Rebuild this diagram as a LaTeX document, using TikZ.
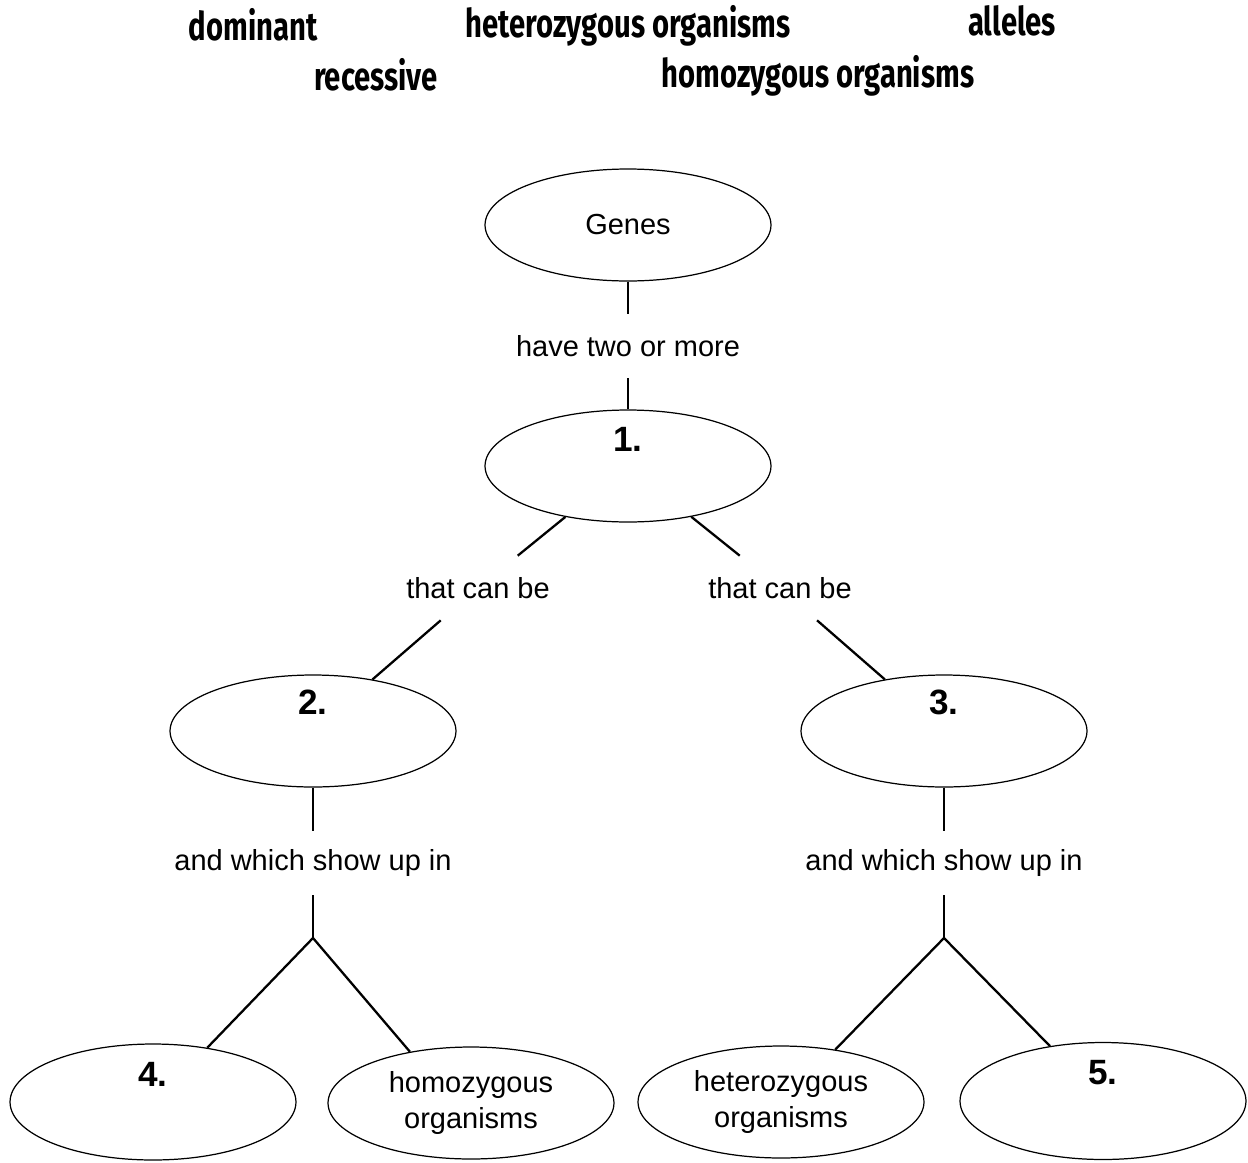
\documentclass[tikz,border=0pt]{standalone}
\usepackage{fontspec}
\setmainfont{Liberation Sans}
\newfontfamily\bankfont{Fira Sans}[FakeStretch=0.74]
\usetikzlibrary{shapes.geometric}

\begin{document}
\begin{tikzpicture}[x=0.02cm,y=-0.02cm]
      \useasboundingbox (0,0) rectangle (1248,1163);
      \begin{scope}[every node/.style={anchor=base,font=\bankfont\bfseries\fontsize{22.5}{26}\selectfont}]
        \node (dominant) at (253,40) {dominant};
        \node (heterow) at (628,37) {heterozygous organisms};
        \node (alleles) at (1012,35) {alleles};
        \node (recessive) at (376,90) {recessive};
        \node (homow) at (818,87) {homozygous organisms};
      \end{scope}
      \begin{scope}[every node/.style={ellipse,draw,line width=0.7pt,minimum width=5.72cm,minimum height=2.24cm,inner sep=0pt,align=center,font=\fontsize{16.5}{20.5}\selectfont}]
        \node (genes) at (628,225) {Genes};
        \node (one) at (628,466) {};
        \node (two) at (313,731) {};
        \node (three) at (944,731) {};
        \node[minimum height=2.32cm] (four) at (153,1102) {};
        \node (homo) at (471,1103) {homozygous\\organisms};
        \node (hetero) at (781,1102) {heterozygous\\organisms};
        \node[minimum height=2.34cm] (five) at (1103,1101) {};
      \end{scope}
      \begin{scope}[every node/.style={font=\bfseries\fontsize{20}{24}\selectfont}]
        \node (n1) at ([yshift=-0.6cm]one.north) {1.};
        \node (n2) at ([yshift=-0.56cm]two.north) {2.};
        \node (n3) at ([yshift=-0.56cm]three.north) {3.};
        \node (n4) at ([yshift=-0.62cm]four.north) {4.};
        \node (n5) at ([yshift=-0.62cm]five.north) {5.};
      \end{scope}
      \begin{scope}[every node/.style={inner sep=0pt,minimum height=1.28cm,font=\fontsize{16.5}{20}\selectfont}]
        \node (have) at (628,346) {have two or more};
        \node (canL) at (478,588) {that can be};
        \node (canR) at (780,588) {that can be};
        \node (showL) at (313,863) {and which show up in};
        \node (showR) at (944,863) {and which show up in};
      \end{scope}
      \coordinate (forkL) at (313,938);
      \coordinate (forkR) at (944,938);
      \begin{scope}[every edge/.style={draw,line width=1.3pt}]
        \path (genes) edge (have);
        \path (have) edge (one);
        \path (one) edge (canL);
        \path (canL) edge (two);
        \path (one) edge (canR);
        \path (canR) edge (three);
        \path (two) edge (showL);
        \path (showL) edge (forkL);
        \path (forkL) edge (four.45);
        \path (forkL) edge (homo.140);
        \path (three) edge (showR);
        \path (showR) edge (forkR);
        \path (forkR) edge (hetero.44);
        \path (forkR) edge (five.134);
      \end{scope}
    \end{tikzpicture}
\end{document}
